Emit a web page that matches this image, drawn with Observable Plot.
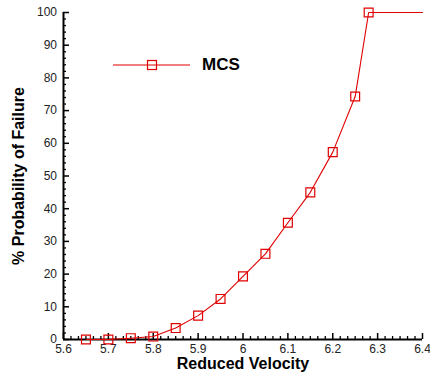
<!DOCTYPE html>
<html>
<head>
<meta charset="utf-8">
<script src="https://cdn.jsdelivr.net/npm/d3@7"></script>
<script src="https://cdn.jsdelivr.net/npm/@observablehq/plot@0.6"></script>
<style>
  html, body { margin: 0; padding: 0; background: #fff; }
  #wrap { position: relative; width: 430px; height: 375px; font-family: "Liberation Sans", Arial, sans-serif; }
  #legend { position: absolute; left: 110px; top: 52px; display: flex; align-items: center; }
  #legend span { font-weight: bold; font-size: 17px; margin-left: 10px; color: #000; }
</style>
</head>
<body>
<div id="wrap">
  <div id="chart"></div>
  <div id="legend">
    <svg width="82" height="26"><line x1="3" y1="13" x2="80" y2="13" stroke="#e00000" stroke-width="1"/><rect x="37.5" y="8.5" width="9" height="9" fill="none" stroke="#e00000" stroke-width="1.2"/></svg>
    <span>MCS</span>
  </div>
</div>
<script>
// MCS series (reduced velocity vs % probability of failure)
const velocity = [5.65, 5.7, 5.75, 5.8, 5.85, 5.9, 5.95, 6.0, 6.05, 6.1, 6.15, 6.2, 6.25, 6.28, 6.4];
const failure  = [0, 0, 0.4, 0.9, 3.5, 7.3, 12.4, 19.3, 26.2, 35.7, 45.0, 57.3, 74.3, 100, 100];
// markers drawn at all points except the final line end
const markerCount = 14;

const xTicks = [5.6, 5.7, 5.8, 5.9, 6.0, 6.1, 6.2, 6.3, 6.4];
const xTickLabels = ["5.6", "5.7", "5.8", "5.9", "6", "6.1", "6.2", "6.3", "6.4"];
const yTicks = [0, 10, 20, 30, 40, 50, 60, 70, 80, 90, 100];
const xMinorPerMajor = 6;
const yMinorPerMajor = 5;

const xLabel = "Reduced Velocity";
const yLabel = "% Probability of Failure";

const data = velocity.map((v, i) => ({v, p: failure[i], i}));
const markers = data.filter(d => d.i < markerCount);

const xMinor = [];
for (let k = 0; k < xTicks.length - 1; k++) {
  const a = xTicks[k], b = xTicks[k + 1];
  for (let j = 1; j < xMinorPerMajor; j++) xMinor.push(a + (b - a) * j / xMinorPerMajor);
}
const yMinor = [];
for (let k = 0; k < yTicks.length - 1; k++) {
  const a = yTicks[k], b = yTicks[k + 1];
  for (let j = 1; j < yMinorPerMajor; j++) yMinor.push(a + (b - a) * j / yMinorPerMajor);
}

const red = "#e00000";
const chart = Plot.plot({
  width: 430,
  height: 375,
  marginLeft: 63,
  marginRight: 8,
  marginTop: 12,
  marginBottom: 36,
  style: {fontFamily: "Liberation Sans, Arial, sans-serif", fontSize: "12px", color: "#222", background: "#fff"},
  x: {domain: [5.6, 6.4]},
  y: {domain: [0, 100]},
  marks: [
    Plot.axisX({ticks: xMinor, tickSize: -3, tickFormat: () => "", stroke: "#000", strokeWidth: 1.3, label: null}),
    Plot.axisX({ticks: xTicks, tickSize: -6, tickPadding: 10.5, strokeWidth: 1.5, stroke: "#000",
      tickFormat: d => xTickLabels[xTicks.indexOf(d)], fill: "#222", fontSize: 12, label: null}),
    Plot.axisY({ticks: yMinor, tickSize: -3, tickFormat: () => "", stroke: "#000", strokeWidth: 1.3, label: null}),
    Plot.axisY({ticks: yTicks, tickSize: -6, tickPadding: 12.5, strokeWidth: 1.5, stroke: "#000",
      tickFormat: d => String(d), fill: "#222", fontSize: 12, label: null}),
    Plot.ruleX([5.6], {stroke: "#000", strokeWidth: 2}),
    Plot.ruleY([0], {stroke: "#000", strokeWidth: 2}),
    Plot.line(data, {x: "v", y: "p", stroke: red, strokeWidth: 1.1}),
    Plot.dot(markers, {x: "v", y: "p", symbol: "square", r: 5, stroke: red, strokeWidth: 1.2, fill: "none"}),
    Plot.text([xLabel], {frameAnchor: "bottom", dy: 24, fontWeight: "bold", fontSize: 16, fill: "#000", lineAnchor: "middle", textAnchor: "middle"}),
    Plot.text([yLabel], {frameAnchor: "left", dx: -45, rotate: -90, fontWeight: "bold", fontSize: 16, fill: "#000", textAnchor: "middle", lineAnchor: "middle"})
  ]
});
document.getElementById("chart").appendChild(chart);
</script>
</body>
</html>
